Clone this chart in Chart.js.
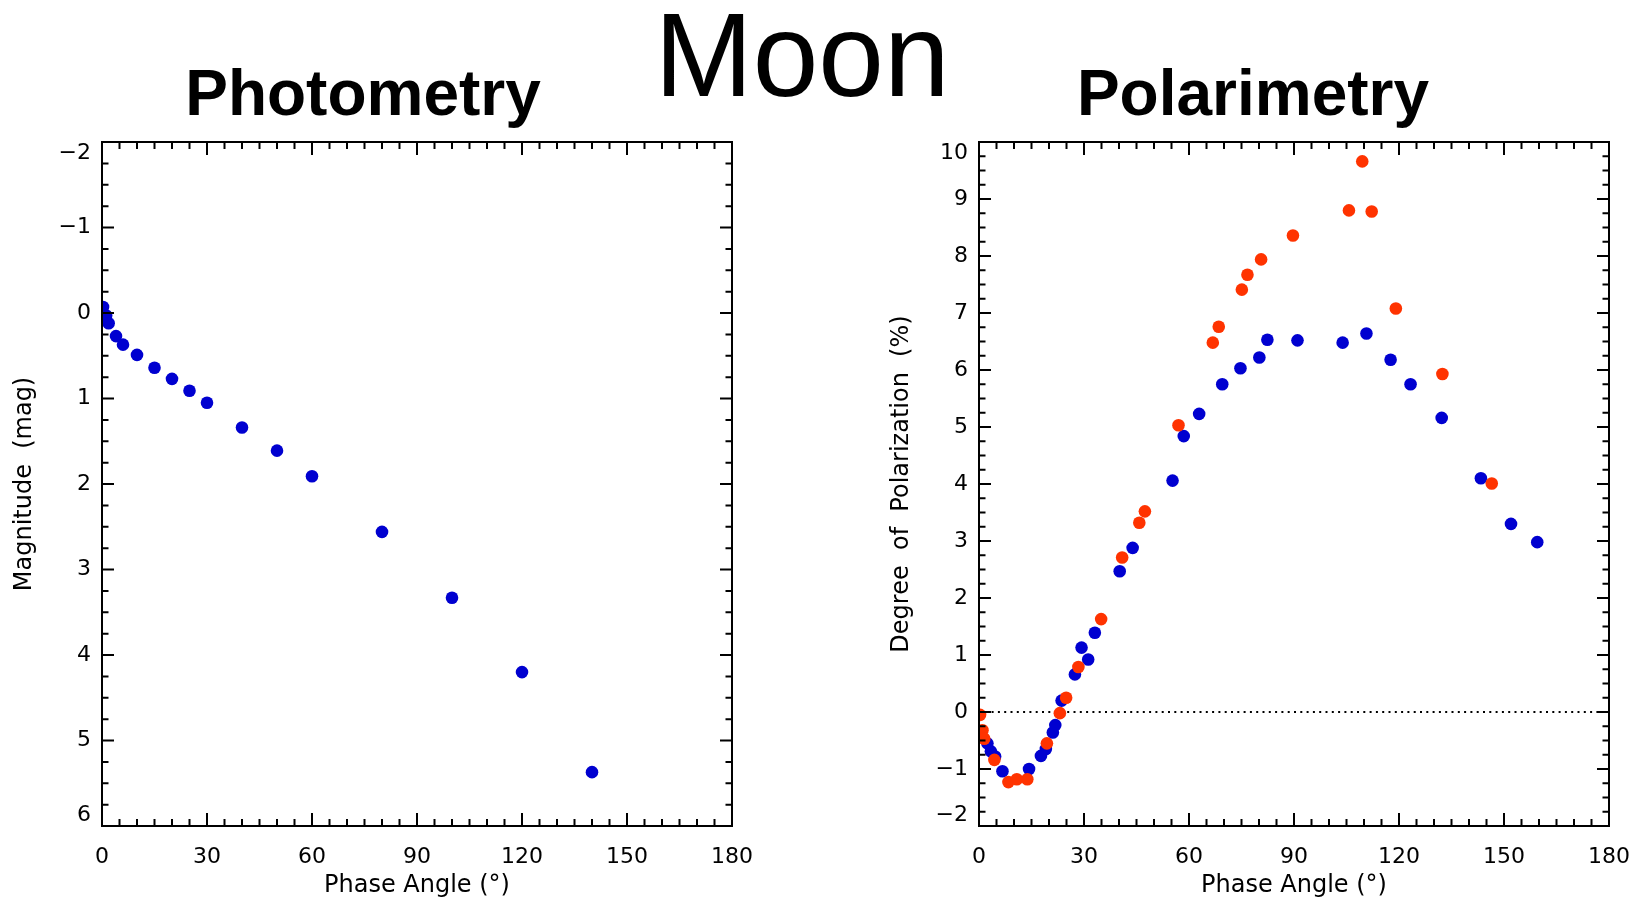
<!DOCTYPE html>
<html>
<head>
<meta charset="utf-8">
<script src="https://cdn.jsdelivr.net/npm/chart.js@4/dist/chart.umd.min.js"></script>
<style>
  html, body { margin: 0; padding: 0; background: #fff; overflow: hidden; }
  body { width: 1644px; height: 902px; position: relative; }
  .box { position: absolute; top: 0; width: 760px; height: 902px; }
  .ttl { position: absolute; width: 600px; text-align: center; color: #000;
         font-family: "Liberation Sans", Arial, sans-serif; white-space: nowrap; }
  .sub { font-size: 64px; line-height: 64px; font-weight: bold; top: 61px; }
  .main { font-size: 118px; line-height: 118px; top: -4px; left: 502px; }
</style>
</head>
<body>
<div class="ttl main">Moon</div>
<div class="ttl sub" style="left:63px">Photometry</div>
<div class="ttl sub" style="left:953px">Polarimetry</div>
<div class="box" style="left:0"><canvas id="c-phot"></canvas></div>
<div class="box" style="left:877px"><canvas id="c-pol"></canvas></div>
<script>
"use strict";

/* ── data ────────────────────────────────────────────────────── */
const PHASE_TICKS = [0, 30, 60, 90, 120, 150, 180];

const PHOT_ANGLE = [0.3, 1.2, 1.9, 4, 6, 10, 15, 20, 25, 30, 40, 50, 60, 80, 100, 120, 140];
const PHOT_MAG   = [-0.07, 0.03, 0.12, 0.27, 0.37, 0.49, 0.64, 0.77, 0.91, 1.05, 1.34, 1.61, 1.91, 2.56, 3.33, 4.2, 5.37];

const POL_BLUE_ANGLE = [2.4, 3.4, 4.6, 6.7, 14.3, 17.7, 19.1, 21.1, 21.8, 23.6, 27.4, 29.3, 31.2, 33.1,
                        40.2, 43.9, 55.3, 58.5, 62.9, 69.5, 74.7, 80.1, 82.4, 91.0, 103.9, 110.7,
                        117.6, 123.3, 132.2, 143.4, 152.0, 159.5];
const POL_BLUE_P     = [-0.55, -0.69, -0.78, -1.04, -1.0, -0.77, -0.65, -0.36, -0.23, 0.2, 0.66, 1.13, 0.92, 1.39,
                        2.47, 2.88, 4.06, 4.84, 5.23, 5.75, 6.03, 6.22, 6.53, 6.52, 6.48, 6.64,
                        6.18, 5.75, 5.16, 4.10, 3.30, 2.98];

const POL_RED_ANGLE = [0.3, 1.0, 1.5, 4.4, 8.4, 10.8, 13.8, 19.4, 23.1, 24.9, 28.4, 34.9, 40.9, 45.8,
                       47.4, 57.0, 66.8, 68.5, 75.1, 76.7, 80.6, 89.7, 105.7, 109.5, 112.2, 119.1,
                       132.4, 146.5];
const POL_RED_P     = [-0.05, -0.32, -0.47, -0.84, -1.23, -1.18, -1.18, -0.55, -0.02, 0.25, 0.79, 1.63, 2.71, 3.32,
                       3.52, 5.03, 6.48, 6.76, 7.41, 7.67, 7.94, 8.36, 8.80, 9.66, 8.78, 7.08,
                       5.93, 4.01];

const ZERO_ANGLE = [0, 180];
const ZERO_P = [0, 0];

const BLUE = "#0000d0";
const RED = "#ff3300";
const FONT = '"DejaVu Sans", sans-serif';

const xy = (xs, ys) => xs.map((x, i) => ({ x, y: ys[i] }));

/* ── IDL-style frame: box + inward major/minor ticks on all sides ── */
const frameTicks = {
  id: "frameTicks",
  afterDraw(chart, args, o) {
    const { ctx, chartArea: a, scales: { x, y } } = chart;
    const near = (v, step) => Math.abs(v / step - Math.round(v / step)) < 1e-6;
    ctx.save();
    ctx.strokeStyle = "#000";
    ctx.lineWidth = 2;
    ctx.beginPath();
    for (let v = x.min; v <= x.max + 1e-6; v += o.xMinor) {
      const px = x.getPixelForValue(v);
      const len = near(v, o.xMajor) ? 13 : 7;
      ctx.moveTo(px, a.bottom); ctx.lineTo(px, a.bottom - len);
      ctx.moveTo(px, a.top); ctx.lineTo(px, a.top + len);
    }
    for (let v = y.min; v <= y.max + 1e-6; v += o.yMinor) {
      const py = y.getPixelForValue(v);
      const len = near(v, o.yMajor) ? 12 : 6.5;
      ctx.moveTo(a.left, py); ctx.lineTo(a.left + len, py);
      ctx.moveTo(a.right, py); ctx.lineTo(a.right - len, py);
    }
    ctx.stroke();
    ctx.strokeRect(a.left, a.top, a.right - a.left, a.bottom - a.top);
    ctx.restore();
  },
};

// end labels on the y axis are tucked inside the frame, like IDL does
function yTickLabel(v) {
  const s = String(v).replace("-", "\u2212");
  const top = this.options.reverse ? this.min : this.max;
  const bottom = this.options.reverse ? this.max : this.min;
  if (v === top) return ["", s];
  if (v === bottom) return [s, ""];
  return s;
}

function noPad(s) { s.paddingLeft = s.paddingRight = s.paddingTop = s.paddingBottom = 0; }

function axes(yMin, yMax, reverse, yTitle) {
  return {
    x: {
      type: "linear", min: 0, max: 180,
      afterFit: (s) => { s.height = 76; noPad(s); },
      afterBuildTicks: (s) => { s.ticks = PHASE_TICKS.map(v => ({ value: v })); },
      grid: { display: false, drawTicks: false }, border: { display: false },
      ticks: { color: "#000", padding: 18, maxRotation: 0, font: { family: FONT, size: 22 } },
      title: { display: true, text: "Phase Angle (°)", color: "#000",
               padding: { top: 0, bottom: 2 }, font: { family: FONT, size: 24 } },
    },
    y: {
      type: "linear", min: yMin, max: yMax, reverse,
      afterFit: (s) => { s.width = 102; noPad(s); },
      grid: { display: false, drawTicks: false }, border: { display: false },
      ticks: { color: "#000", padding: 11, stepSize: 1, callback: yTickLabel,
               font: { family: FONT, size: 22, lineHeight: 1 } },
      title: { display: true, text: yTitle, color: "#000",
               padding: { top: 10, bottom: 0 }, font: { family: FONT, size: 24 } },
    },
  };
}

function mk(id, datasets, scales, tickOpts) {
  new Chart(document.getElementById(id), {
    type: "scatter",
    data: { datasets },
    options: {
      responsive: true, maintainAspectRatio: false, animation: false,
      layout: { padding: { top: 142, right: 28, bottom: 0, left: 0 } },
      scales,
      plugins: { legend: { display: false }, tooltip: { enabled: false }, frameTicks: tickOpts },
    },
    plugins: [frameTicks],
  });
}

const dot = (data, color, order) => ({
  data, backgroundColor: color, borderWidth: 0, pointRadius: 6.3, pointHoverRadius: 6.3, order,
});

/* ── Photometry ──────────────────────────────────────────────── */
mk("c-phot",
  [dot(xy(PHOT_ANGLE, PHOT_MAG), BLUE, 1)],
  axes(-2, 6, true, "Magnitude  (mag)"),
  { xMinor: 5, xMajor: 30, yMinor: 0.25, yMajor: 1 });

/* ── Polarimetry ─────────────────────────────────────────────── */
mk("c-pol",
  [
    { type: "line", data: xy(ZERO_ANGLE, ZERO_P), borderColor: "#000", borderWidth: 2,
      borderDash: [2, 4.3], pointRadius: 0, order: 3 },
    dot(xy(POL_BLUE_ANGLE, POL_BLUE_P), BLUE, 2),
    dot(xy(POL_RED_ANGLE, POL_RED_P), RED, 1),
  ],
  axes(-2, 10, false, "Degree  of  Polarization  (%)"),
  { xMinor: 5, xMajor: 30, yMinor: 0.25, yMajor: 1 });
</script>
</body>
</html>
